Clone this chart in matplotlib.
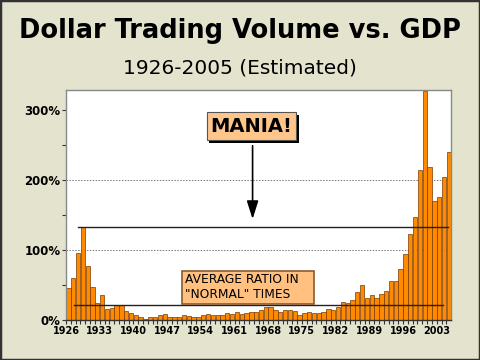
import numpy as np
import matplotlib
matplotlib.use("Agg")
import matplotlib.pyplot as plt
from matplotlib.patches import Rectangle

years = np.arange(1926, 2006)
ratio = [45, 60, 96, 132, 77, 47, 24, 35, 16, 17,
         22, 21, 13, 10, 7, 4, 2, 4, 4, 7,
         8, 5, 5, 4, 7, 6, 4, 4, 7, 8,
         7, 7, 7, 10, 8, 11, 8, 10, 11, 12,
         15, 18, 19, 15, 11, 14, 14, 13, 7, 10,
         11, 10, 10, 11, 16, 15, 18, 26, 24, 29,
         40, 50, 32, 36, 31, 37, 41, 55, 55, 73,
         94, 122, 147, 214, 327, 218, 170, 175, 204, 239]

mania_level = 132
normal_level = 21
ytick_vals = [0, 100, 200, 300]
ytick_labels = ["0%", "100%", "200%", "300%"]
xtick_years = list(range(1926, 2006, 7))

bg = "#E4E4CE"
fig = plt.figure(figsize=(4.8, 3.6), dpi=100, facecolor=bg)
fig.patches.append(Rectangle((0, 0), 1, 1, transform=fig.transFigure,
                             fill=False, edgecolor="#333333", linewidth=2.5))

fig.text(0.5, 0.915, "Dollar Trading Volume vs. GDP", ha="center", va="center",
         fontsize=18.5, fontweight="bold")
fig.text(0.5, 0.81, "1926-2005 (Estimated)", ha="center", va="center", fontsize=14.5)

ax = fig.add_axes([0.1375, 0.111, 0.8025, 0.639])
ax.set_facecolor("white")
ax.bar(years, ratio, width=0.9, color="#FF8A00", edgecolor="#7A3A00", linewidth=0.5, zorder=2)

ax.set_xlim(1925.5, 2005.5)
ax.set_ylim(0, 328)

ax.set_yticks(ytick_vals)
ax.set_yticklabels(ytick_labels, fontsize=8.5, fontweight="bold")
ax.set_yticks(np.arange(50, 328, 100), minor=True)
for v in [100, 200]:
    ax.axhline(v, color="#777777", linestyle=(0, (1.5, 1.5)), linewidth=0.7, zorder=1)

ax.set_xticks([y - 0.5 for y in xtick_years])
ax.set_xticklabels([str(y) for y in xtick_years], fontsize=7, fontweight="bold")
ax.set_xticks(years - 0.5, minor=True)
ax.tick_params(axis="both", which="both", direction="out", length=3, width=0.8, color="#333333", pad=1)

for s in ax.spines.values():
    s.set_color("#888888")
    s.set_linewidth(1)
ax.spines["bottom"].set_color("#333333")

ax.plot([1928.0, 2004.9], [mania_level, mania_level], color="#222222", linewidth=1, zorder=3)
ax.plot([1927.2, 2003.8], [normal_level, normal_level], color="#222222", linewidth=1, zorder=3)

# MANIA box with drop shadow
ax.add_patch(Rectangle((1955.3, 252.5), 18.5, 40, facecolor="black", edgecolor="none", zorder=4, clip_on=False))
ax.add_patch(Rectangle((1954.7, 256), 18.5, 40, facecolor="#FFC68C", edgecolor="#555555", linewidth=0.8, zorder=5, clip_on=False))
ax.text(1964.0, 276, "MANIA!", ha="center", va="center", fontsize=14, fontweight="bold", zorder=6)
ax.annotate("", xy=(1964.25, 140), xytext=(1964.25, 252.5),
            arrowprops=dict(arrowstyle="-|>,head_width=0.35,head_length=1.1", color="black", lw=1.2),
            zorder=6)

# average ratio box
ax.add_patch(Rectangle((1949.5, 23), 27.5, 47, facecolor="#FFC080", edgecolor="#8B5A2B", linewidth=1.2, zorder=5))
ax.text(1950.3, 46.5, "AVERAGE RATIO IN\n\"NORMAL\" TIMES", ha="left", va="center",
        fontsize=8.8, linespacing=1.2, zorder=6)

fig.savefig("out.png", dpi=100, facecolor=bg)
